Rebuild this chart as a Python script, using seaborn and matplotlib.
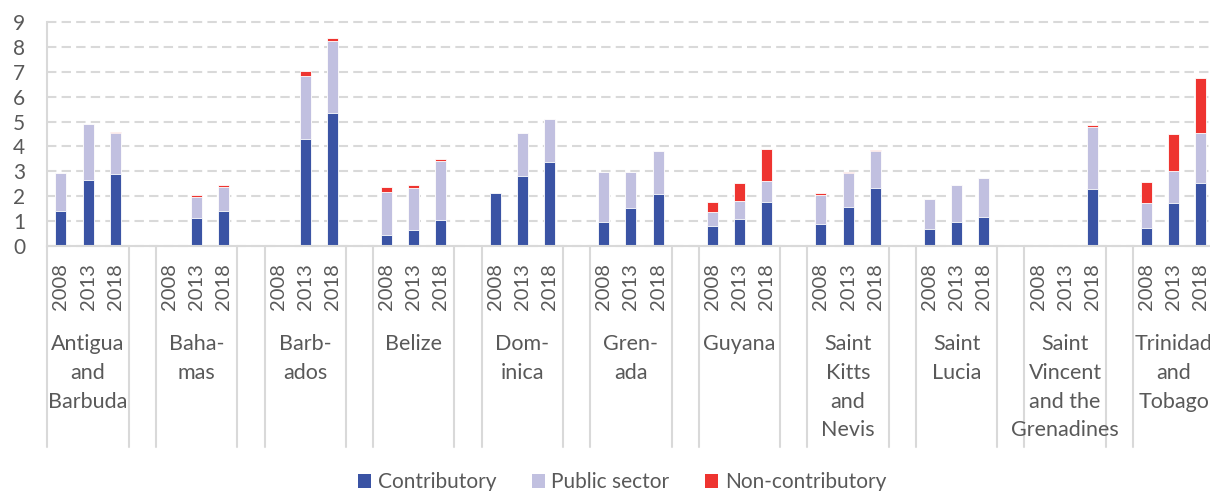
import numpy as np
import pandas as pd
import matplotlib
matplotlib.use("Agg")
import matplotlib.pyplot as plt
import matplotlib.transforms as mtransforms
from matplotlib.patches import Patch
import seaborn as sns

# ---------------- data ----------------
countries = ["Antigua and Barbuda", "Bahamas", "Barbados", "Belize", "Dominica",
             "Grenada", "Guyana", "Saint Kitts and Nevis", "Saint Lucia",
             "Saint Vincent and the Grenadines", "Trinidad and Tobago"]
country_labels = ["Antigua\nand\nBarbuda", "Baha-\nmas", "Barb-\nados", "Belize",
                  "Dom-\ninica", "Gren-\nada", "Guyana", "Saint\nKitts\nand\nNevis",
                  "Saint\nLucia", "Saint\nVincent\nand the\nGrenadines",
                  "Trinidad\nand\nTobago"]
years = ["2008", "2013", "2018"]
nan = np.nan
contributory = [1.40, 2.65, 2.91,
                nan, 1.14, 1.39,
                nan, 4.31, 5.36,
                0.43, 0.64, 1.03,
                2.12, 2.81, 3.36,
                0.96, 1.53, 2.10,
                0.82, 1.10, 1.77,
                0.90, 1.55, 2.32,
                0.70, 0.96, 1.15,
                nan, nan, 2.28,
                0.71, 1.71, 2.54]
public_sector = [1.52, 2.24, 1.64,
                 nan, 0.83, 0.99,
                 nan, 2.52, 2.88,
                 1.74, 1.69, 2.40,
                 0.02, 1.74, 1.75,
                 2.00, 1.46, 1.70,
                 0.56, 0.70, 0.83,
                 1.15, 1.37, 1.51,
                 1.18, 1.48, 1.57,
                 nan, nan, 2.51,
                 1.03, 1.30, 1.99]
non_contributory = [0.03, 0.02, 0.03,
                    nan, 0.07, 0.07,
                    nan, 0.20, 0.12,
                    0.19, 0.12, 0.05,
                    0.00, 0.00, 0.00,
                    0.00, 0.00, 0.00,
                    0.39, 0.73, 1.28,
                    0.07, 0.05, 0.04,
                    0.00, 0.00, 0.00,
                    nan, nan, 0.07,
                    0.83, 1.49, 2.21]
series_names = ["Contributory", "Public sector", "Non-contributory"]
colors = ["#3A53A4", "#C1C0E0", "#EE3430"]
text_color = "#595959"
grid_color = "#D9D9D9"

# ---------------- build table ----------------
rows = []
for ci, c in enumerate(countries):
    for yi, yr in enumerate(years):
        k = ci * 3 + yi
        rows.append({"slot": f"{c}|{yr}", "country": c, "year": yr,
                     "c": contributory[k], "p": public_sector[k], "n": non_contributory[k]})
df = pd.DataFrame(rows).dropna(subset=["c"])
df["cp"] = df["c"] + df["p"]
df["cpn"] = df["cp"] + df["n"]

order = []
for ci, c in enumerate(countries):
    for yr in years:
        order.append(f"{c}|{yr}")
    if ci < len(countries) - 1:
        order.append(f"gap{ci}")

# ---------------- figure ----------------
sns.set_style("white")
plt.rcParams["font.family"] = ["Lato", "DejaVu Sans"]

W, H = 1210, 491
fig = plt.figure(figsize=(W / 100, H / 100), dpi=100)
n_slots = len(order)
slot_px = 27.14
left_px = 47.4
ax = fig.add_axes([left_px / W, (H - 246) / H, n_slots * slot_px / W, 224 / H])

bw = 0.405
for col, color in zip(["cpn", "cp", "c"], [colors[2], colors[1], colors[0]]):
    sns.barplot(data=df, x="slot", y=col, order=order, color=color, saturation=1,
                width=bw, errorbar=None, edgecolor="#FFFFFF", linewidth=0.6, ax=ax)

ax.set_xlim(-0.5, n_slots - 0.5)
ax.set_ylim(0, 9)
ax.set_yticks(range(0, 10))
ax.set_yticklabels([str(i) for i in range(0, 10)])
ax.yaxis.grid(True, color=grid_color, linestyle=(0, (4.5, 2.5)), linewidth=1.5, clip_on=False)
ax.set_axisbelow(True)
ax.set_xlabel("")
ax.set_ylabel("")
for s in ["top", "right"]:
    ax.spines[s].set_visible(False)
ax.spines["left"].set_color(grid_color)
ax.spines["left"].set_linewidth(1.5)
ax.spines["bottom"].set_color(grid_color)
ax.spines["bottom"].set_linewidth(1.5)
ax.tick_params(axis="y", length=0, pad=16, labelsize=15, labelcolor=text_color)

# year tick labels
tick_pos = [i for i, s in enumerate(order) if not s.startswith("gap")]
tick_lab = [order[i].split("|")[1] for i in tick_pos]
ax.set_xticks(tick_pos)
ax.set_xticklabels(tick_lab, rotation=90, fontsize=14.5, color=text_color)
ax.tick_params(axis="x", length=0, pad=12)

# separators
trans = mtransforms.blended_transform_factory(ax.transData, ax.transAxes)
sep_depth = (447 - 246) / 224
for g in range(len(countries)):
    for xb in (4 * g - 0.5, 4 * g + 2.5):
        ax.plot([xb, xb], [0, -sep_depth], transform=trans, color=grid_color,
                lw=1.5, clip_on=False, zorder=0)

# country labels
for g, lab in enumerate(country_labels):
    ax.text(4 * g + 1, -(334 - 246) / 224, lab, transform=trans, ha="center", va="top",
            fontsize=15.5, color=text_color, linespacing=1.55)

# legend
handles = [Patch(facecolor=c, edgecolor="none") for c in colors]
fig.legend(handles, series_names, loc="center", ncol=3,
           bbox_to_anchor=(622 / W, (H - 482) / H), frameon=False,
           fontsize=15, labelcolor=text_color, handlelength=0.65, handleheight=0.65,
           handletextpad=0.3, columnspacing=1.7, borderpad=0, borderaxespad=0)

fig.savefig("out.png", dpi=100)
